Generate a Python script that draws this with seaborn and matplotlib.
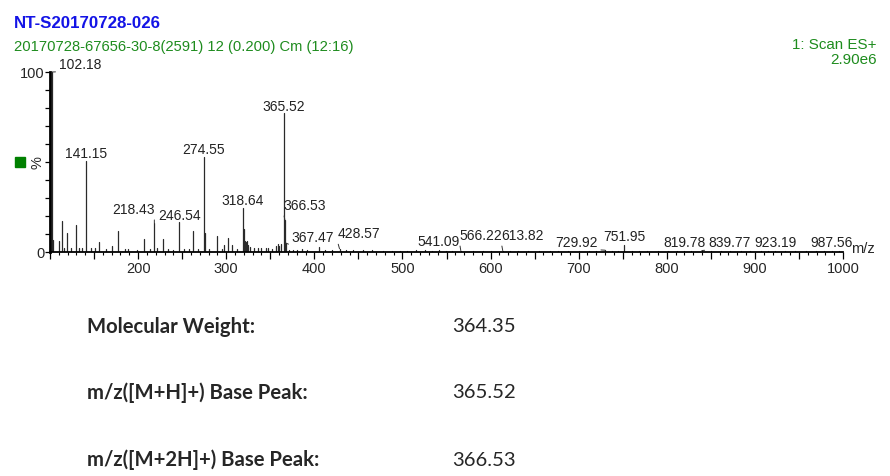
"""Mass spectrum of NT-S20170728-026."""
import numpy as np
import pandas as pd
import matplotlib
matplotlib.use("Agg")
import matplotlib.pyplot as plt
from matplotlib.patches import Rectangle
from matplotlib.ticker import MultipleLocator, FuncFormatter
import seaborn as sns

# labelled peaks (m/z, relative intensity %)
label_mz = [102.18, 141.15, 218.43, 246.54, 274.55, 318.64, 365.52, 366.53,
            367.47, 428.57, 541.09, 566.22, 613.82, 729.92, 751.95, 819.78,
            839.77, 923.19, 987.56]
label_int = [100, 50.6, 16.0, 16.4, 53.0, 24.4, 77.0, 18.0,
             5.0, 1.8, 1.3, 0.8, 0.8, 1.0, 4.0, 0.7,
             0.8, 0.7, 0.7]

# unlabelled peaks
minor_mz = [103.2, 110.6, 113.3, 116.0, 119.0, 124.0, 129.2, 133.0, 136.0,
            147.0, 151.0, 156.0, 163.0, 170.0, 176.8, 185.0, 189.0, 199.0,
            206.3, 213.0, 222.0, 228.6, 234.0, 240.0, 252.0, 258.0, 262.0,
            268.0, 275.6, 280.0, 289.2, 295.0, 297.9, 302.4, 306.9, 312.0,
            319.8, 321.5, 322.5, 323.5, 325.0, 327.0, 331.0, 336.0, 340.0,
            345.0, 347.8, 352.0, 357.0, 359.0, 360.0, 362.0, 371.0, 376.0,
            380.0, 386.0, 392.0, 405.0, 412.0, 420.0, 436.0, 444.0, 455.0,
            466.0, 478.0, 488.0, 497.0, 505.0, 515.0, 526.0, 533.0, 549.0,
            556.0, 580.0, 591.0, 600.0, 622.0, 631.0, 642.0, 655.0, 668.0,
            676.0, 688.0, 700.0, 712.0, 720.0, 738.0, 745.0, 760.0, 768.0,
            778.0, 790.0, 801.0, 812.0, 828.0, 850.0, 861.0, 872.0, 884.0,
            895.0, 907.0, 915.0, 934.0, 946.0, 958.0, 969.0, 978.0, 995.0]
minor_int = [6.8, 5.9, 17.0, 2.0, 10.5, 2.0, 14.8, 2.5, 2.0,
             2.5, 2.5, 5.3, 1.5, 3.5, 11.4, 1.5, 1.5, 1.2,
             7.2, 1.5, 2.0, 7.2, 1.5, 1.2, 1.5, 1.5, 11.4,
             1.5, 10.5, 1.5, 8.7, 1.5, 4.0, 7.8, 4.0, 1.5,
             12.8, 5.9, 5.5, 5.9, 4.0, 3.0, 2.0, 2.0, 2.0,
             2.0, 2.0, 1.5, 3.5, 4.6, 3.5, 4.6, 1.2, 1.0,
             1.0, 1.5, 1.0, 3.0, 1.0, 1.0, 1.0, 1.0, 1.0,
             1.0, 0.8, 0.8, 0.8, 0.8, 1.0, 1.0, 0.8, 0.8,
             0.8, 0.8, 0.8, 0.8, 0.8, 0.8, 0.7, 0.7, 0.8,
             0.7, 0.7, 0.7, 0.8, 0.7, 0.8, 0.7, 0.8, 0.7,
             0.7, 0.7, 0.7, 0.7, 0.7, 0.7, 0.7, 0.7, 0.7,
             0.7, 0.7, 0.7, 0.7, 0.7, 0.7, 0.7, 0.7, 0.7]

# label text placement: (x centre, baseline) in data units, leader anchor on text
label_pos = {
    102.18: (134.0, 101.8, (0.0, 0.0)),
    218.43: (194.3, 21.3, (1.0, 0.0)),
    366.53: (389.0, 23.5, (0.0, 0.0)),
    367.47: (398.5, 5.3, (0.0, 0.0)),
    428.57: (450.3, 7.8, (0.0, 0.0)),
    566.22: (589.0, 6.8, (0.0, 0.0)),
    613.82: (636.3, 6.8, (0.0, 0.0)),
    729.92: (697.5, 2.9, (1.0, 0.0)),
    839.77: (870.7, 2.8, (0.0, 0.0)),
}
label_bottom = {541.09: 3.1, 751.95: 5.9, 819.78: 2.8, 923.19: 2.8, 987.56: 2.8}

title = "NT-S20170728-026"
subtitle = "20170728-67656-30-8(2591) 12 (0.200) Cm (12:16)"
scan_info = ["1: Scan ES+", "2.90e6"]
summary_names = ["Molecular Weight:", "m/z([M+H]+) Base Peak:", "m/z([M+2H]+) Base Peak:"]
summary_values = ["364.35", "365.52", "366.53"]

sns.set_style("ticks")
plt.rcParams["font.family"] = ["Liberation Sans", "DejaVu Sans"]

W, H = 890, 476
fig = plt.figure(figsize=(W / 100, H / 100), dpi=100)
ax = fig.add_axes([50 / W, 1 - 252 / H, 793 / W, 180 / H])

all_mz = minor_mz + label_mz
all_int = minor_int + label_int
rows = []
for i, (m, h) in enumerate(zip(all_mz, all_int)):
    rows.append((i, m, 0.0))
    rows.append((i, m, h))
df = pd.DataFrame(rows, columns=["peak", "mz", "intensity"])
sns.lineplot(data=df, x="mz", y="intensity", units="peak", estimator=None,
             sort=False, color="#2a2a2a", lw=0.9, ax=ax, legend=False)

ax.set_xlim(100, 1000)
ax.set_ylim(0, 100)
ax.set_xlabel("")
ax.set_ylabel("")
sns.despine(ax=ax)
ax.spines["left"].set_linewidth(2.0)
ax.spines["bottom"].set_linewidth(1.3)
ax.spines["left"].set_color("black")
ax.spines["bottom"].set_color("black")

ax.xaxis.set_major_locator(MultipleLocator(50))
ax.xaxis.set_minor_locator(MultipleLocator(10))
ax.xaxis.set_major_formatter(FuncFormatter(
    lambda v, p: f"{v:.0f}" if (v % 100 == 0 and v > 100) else ""))
ax.tick_params(axis="x", which="major", length=5, width=0.9, pad=2,
               labelsize=10.5, color="black")
ax.tick_params(axis="x", which="minor", length=2.2, width=0.8, color="black")
ax.set_yticks(np.arange(0, 101, 10))
ax.set_yticklabels(["0"] + [""] * 9 + ["100"])
ax.tick_params(axis="y", which="major", length=3.6, width=0.9, pad=0.5,
               labelsize=10.5, color="black")

for m, h in zip(label_mz, label_int):
    txt = f"{m:.2f}"
    if m in label_pos:
        tx, ty, rel = label_pos[m]
        ax.annotate(txt, xy=(m, h), xytext=(tx, ty), ha="center", va="baseline",
                    fontsize=10, color="#222222", annotation_clip=False,
                    arrowprops=dict(arrowstyle="-", lw=0.7, color="#333333",
                                    shrinkA=0, shrinkB=0, relpos=rel))
    else:
        ty = label_bottom.get(m, h + 1.6)
        ax.text(m, ty, txt, ha="center", va="baseline", fontsize=10,
                color="#222222")

fig.text(851 / W, 1 - 249 / H, "m/z", ha="left", va="center", fontsize=10.5)
fig.text(37 / W, 1 - 163 / H, "%", ha="center", va="center", fontsize=10.5,
         rotation=90)
fig.patches.append(Rectangle((15 / W, 1 - 167 / H), 10 / W, 10 / H,
                             transform=fig.transFigure, color="#008000"))

fig.text(14 / W, 1 - 24 / H, title, ha="left", va="center", fontsize=12.2,
         fontweight="bold", color="#1414E6")
fig.text(14 / W, 1 - 46.5 / H, subtitle, ha="left", va="center", fontsize=10.6,
         color="#1E8C1E")
fig.text(877 / W, 1 - 45 / H, scan_info[0], ha="right", va="center",
         fontsize=10.9, color="#1E8C1E")
fig.text(877 / W, 1 - 59.5 / H, scan_info[1], ha="right", va="center",
         fontsize=11, color="#1E8C1E")

row_y = [327, 393, 460]
for name, val, y in zip(summary_names, summary_values, row_y):
    fig.text(87 / W, 1 - y / H, name, ha="left", va="center", fontsize=14.6,
             fontweight="bold", family=["Lato", "DejaVu Sans"])
    fig.text(452 / W, 1 - y / H, val, ha="left", va="center", fontsize=14.6,
             family=["Lato", "DejaVu Sans"])

fig.savefig("out.png", dpi=100)
